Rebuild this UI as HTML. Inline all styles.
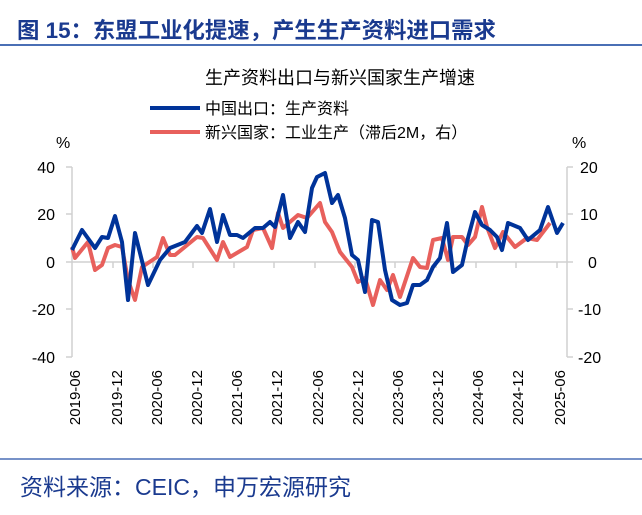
<!DOCTYPE html>
<html><head><meta charset="utf-8"><style>
body{margin:0;background:#fff;}
svg text{font-family:"Liberation Sans","Noto Sans CJK SC",sans-serif;}
</style></head><body>
<svg width="642" height="510" viewBox="0 0 642 510" xmlns="http://www.w3.org/2000/svg">
<text x="17" y="38" font-size="22.4" font-weight="bold" fill="#1a3a8f">图 15：东盟工业化提速，产生生产资料进口需求</text>
<line x1="0" y1="45" x2="642" y2="45" stroke="#4a6fb5" stroke-width="2"/>
<text x="340" y="84" font-size="18" text-anchor="middle" fill="#000">生产资料出口与新兴国家生产增速</text>
<line x1="150" y1="108" x2="200" y2="108" stroke="#003399" stroke-width="4"/>
<text x="205" y="114" font-size="16">中国出口：生产资料</text>
<line x1="150" y1="132" x2="200" y2="132" stroke="#e8605c" stroke-width="4"/>
<text x="205" y="138" font-size="16">新兴国家：工业生产（滞后2M，右）</text>
<text x="56" y="148" font-size="16">%</text>
<text x="572" y="148" font-size="16">%</text>
<g stroke="#d0d0d0" stroke-width="1.5" fill="none">
<line x1="72" y1="167" x2="72" y2="357"/>
<line x1="66" y1="167" x2="72" y2="167"/><line x1="66" y1="214" x2="72" y2="214"/><line x1="66" y1="262" x2="72" y2="262"/><line x1="66" y1="309" x2="72" y2="309"/><line x1="66" y1="357" x2="72" y2="357"/>
<line x1="567" y1="167" x2="567" y2="357"/>
<line x1="567" y1="167" x2="573" y2="167"/><line x1="567" y1="214" x2="573" y2="214"/><line x1="567" y1="262" x2="573" y2="262"/><line x1="567" y1="309" x2="573" y2="309"/><line x1="567" y1="357" x2="573" y2="357"/>
<line x1="72" y1="262" x2="567" y2="262"/>
<path d="M113 262v6M153 262v6M193 262v6M234 262v6M274 262v6M315 262v6M355 262v6M395 262v6M436 262v6M476 262v6M516 262v6M557 262v6"/>
</g>
<g font-size="16" text-anchor="end">
<text x="55" y="173">40</text><text x="55" y="220">20</text><text x="55" y="268">0</text><text x="55" y="315">-20</text><text x="55" y="363">-40</text>
</g>
<g font-size="16" text-anchor="start">
<text x="580" y="173">20</text><text x="580" y="220">10</text><text x="588" y="268">0</text><text x="578" y="315">-10</text><text x="578" y="363">-20</text>
</g>
<g font-size="15" text-anchor="end">
<text transform="translate(80,370) rotate(-90)">2019-06</text>
<text transform="translate(122,370) rotate(-90)">2019-12</text>
<text transform="translate(162,370) rotate(-90)">2020-06</text>
<text transform="translate(202,370) rotate(-90)">2020-12</text>
<text transform="translate(242,370) rotate(-90)">2021-06</text>
<text transform="translate(282,370) rotate(-90)">2021-12</text>
<text transform="translate(323,370) rotate(-90)">2022-06</text>
<text transform="translate(363,370) rotate(-90)">2022-12</text>
<text transform="translate(403,370) rotate(-90)">2023-06</text>
<text transform="translate(443,370) rotate(-90)">2023-12</text>
<text transform="translate(483,370) rotate(-90)">2024-06</text>
<text transform="translate(523,370) rotate(-90)">2024-12</text>
<text transform="translate(565,370) rotate(-90)">2025-06</text>
</g>
<polyline fill="none" stroke="#e8605c" stroke-width="4" stroke-linejoin="round" points="72,247 75,258 88,242 95,270 102,265 108,248 115,245 122,247 128,280 135,300 142,267 157,257 163,238 170,255 175,255 197,237 203,238 217,260 223,242 230,257 247,247 253,230 263,228 272,248 278,213 283,228 298,215 307,218 320,203 325,222 332,232 340,252 352,267 358,282 365,278 373,305 380,280 387,290 393,275 400,297 413,258 420,267 427,268 433,240 442,238 448,260 453,237 462,237 468,245 475,237 482,207 487,227 495,248 503,232 515,247 527,238 537,240 550,223"/>
<polyline fill="none" stroke="#003399" stroke-width="4" stroke-linejoin="round" points="72,250 82,230 95,248 102,237 108,238 115,216 122,242 128,300 135,233 148,285 160,260 170,248 185,242 197,226 202,233 210,209 217,242 223,215 230,235 237,235 243,238 255,228 263,228 270,222 275,227 283,195 290,238 298,222 305,232 312,188 317,177 325,173 332,203 338,195 345,218 352,255 358,260 365,292 372,220 378,222 385,270 392,300 400,305 407,303 413,285 420,285 427,280 433,267 440,258 447,223 453,272 462,265 468,238 475,212 482,225 490,230 497,237 502,250 508,223 520,228 528,240 540,230 548,207 557,233 563,223"/>
<line x1="0" y1="459" x2="642" y2="459" stroke="#4a6fb5" stroke-width="1.5"/>
<text x="20" y="495" font-size="23" fill="#1a3a8f">资料来源：CEIC，申万宏源研究</text>
</svg>
</body></html>
